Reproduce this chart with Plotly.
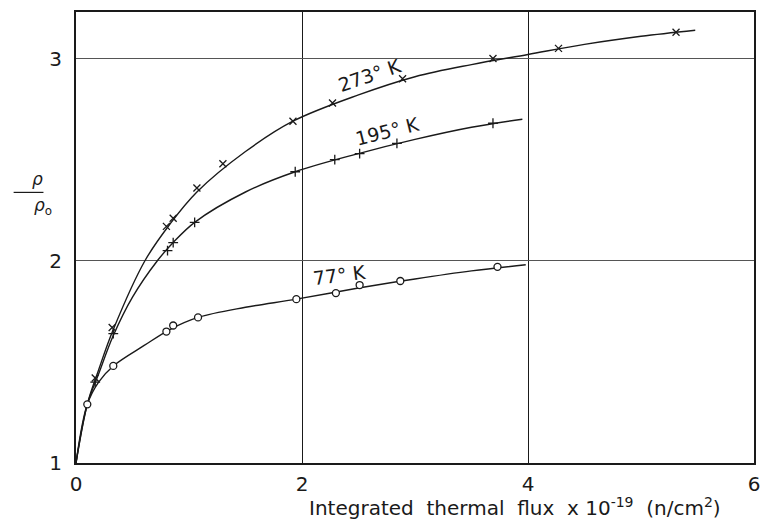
import plotly.graph_objects as go

# ---- data ----
# measured points
# 273 K series (x markers)
x273 = [0.17, 0.32, 0.80, 0.86, 1.07, 1.30, 1.92, 2.27, 2.89, 3.69, 4.27, 5.31]
y273 = [1.42, 1.67, 2.17, 2.21, 2.36, 2.48, 2.69, 2.78, 2.90, 3.00, 3.05, 3.13]
# 195 K series (+ markers)
x195 = [0.17, 0.33, 0.81, 0.86, 1.05, 1.94, 2.29, 2.51, 2.84, 3.69]
y195 = [1.40, 1.64, 2.05, 2.09, 2.19, 2.44, 2.50, 2.53, 2.58, 2.68]
# 77 K series (o markers)
x77 = [0.10, 0.33, 0.80, 0.86, 1.08, 1.95, 2.30, 2.51, 2.87, 3.73]
y77 = [1.29, 1.48, 1.65, 1.68, 1.72, 1.81, 1.84, 1.88, 1.90, 1.97]

# hand-drawn fitted curves
cx273 = [0.0, 0.10, 0.20, 0.33, 0.61, 0.83, 1.07, 1.50, 1.92, 2.50, 3.00, 3.50, 4.00, 4.50, 5.00, 5.48]
cy273 = [1.00, 1.29, 1.46, 1.66, 2.00, 2.18, 2.34, 2.54, 2.69, 2.82, 2.91, 2.97, 3.02, 3.07, 3.11, 3.14]
cx195 = [0.0, 0.10, 0.20, 0.33, 0.50, 0.72, 0.86, 1.05, 1.50, 1.94, 2.50, 3.00, 3.50, 3.95]
cy195 = [1.00, 1.29, 1.44, 1.63, 1.82, 2.00, 2.09, 2.19, 2.34, 2.44, 2.53, 2.60, 2.66, 2.70]
cx77 = [0.0, 0.10, 0.20, 0.33, 0.60, 0.83, 1.08, 1.50, 1.95, 2.50, 3.00, 3.50, 3.98]
cy77 = [1.00, 1.29, 1.40, 1.48, 1.58, 1.66, 1.72, 1.77, 1.81, 1.865, 1.91, 1.95, 1.98]

labels = ["273° K", "195° K", "77° K"]
label_pos = [(2.60, 2.92, -19), (2.76, 2.64, -14), (2.33, 1.93, -7)]

xticks = [0, 2, 4, 6]
yticks = [1, 2, 3]
x_title = "Integrated  thermal  flux  x 10<sup>-19</sup>  (n/cm<sup>2</sup>)"

FONT = "DejaVu Sans"
INK = "#1a1a1a"

fig = go.Figure()

series = [
    (cx273, cy273, x273, y273, "x-thin-open", INK, 7),
    (cx195, cy195, x195, y195, "cross-thin-open", INK, 7),
    (cx77, cy77, x77, y77, "circle", "white", 7),
]
for cx, cy, xs, ys, sym, fill, size in series:
    fig.add_trace(go.Scatter(x=cx, y=cy, mode="lines",
                             line=dict(color=INK, width=1.4, shape="spline", smoothing=1.0),
                             hoverinfo="skip", showlegend=False))
    fig.add_trace(go.Scatter(x=xs, y=ys, mode="markers",
                             marker=dict(symbol=sym, size=size, color=fill,
                                         line=dict(color=INK, width=1.3)),
                             showlegend=False))

for text, (lx, ly, ang) in zip(labels, label_pos):
    fig.add_annotation(x=lx, y=ly, text=text, showarrow=False, textangle=ang,
                       font=dict(family=FONT, size=19, color=INK))

# x-axis title
fig.add_annotation(xref="paper", yref="paper", x=0.647, y=-0.064, yanchor="top",
                   text=x_title, showarrow=False,
                   font=dict(family=FONT, size=20, color=INK))

# y-axis label rho / rho0
fig.add_annotation(xref="paper", yref="paper", x=-0.068, y=0.602, yanchor="bottom",
                   text="<i>ρ</i>", showarrow=False,
                   font=dict(family=FONT, size=17, color=INK))
fig.add_annotation(xref="paper", yref="paper", x=-0.065, y=0.598, yanchor="top",
                   text="<i>ρ</i><sub>o</sub>", showarrow=False,
                   font=dict(family=FONT, size=17, color=INK))
fig.add_shape(type="line", xref="paper", yref="paper", x0=-0.092, x1=-0.048,
              y0=0.600, y1=0.600, line=dict(color=INK, width=1.2))

fig.update_xaxes(range=[0, 6], tickvals=xticks, ticktext=[str(v) for v in xticks],
                 showgrid=True, gridcolor=INK, gridwidth=1.2, zeroline=False,
                 showline=True, linecolor=INK, linewidth=2, mirror=True,
                 ticks="", ticklabelstandoff=2,
                 tickfont=dict(family=FONT, size=20, color=INK))
fig.update_yaxes(range=[1, 3.23], tickvals=yticks, ticktext=[str(v) for v in yticks],
                 showgrid=True, gridcolor="#555555", gridwidth=1, zeroline=False,
                 showline=True, linecolor=INK, linewidth=2, mirror=True,
                 ticks="", ticklabelstandoff=8,
                 tickfont=dict(family=FONT, size=20, color=INK))

fig.update_layout(width=761, height=519, template="none",
                  margin=dict(l=76, r=7, t=12, b=56),
                  paper_bgcolor="white", plot_bgcolor="white")

fig.write_html("out.html", config={"displayModeBar": False},
               post_script="document.body.style.margin='0';")
